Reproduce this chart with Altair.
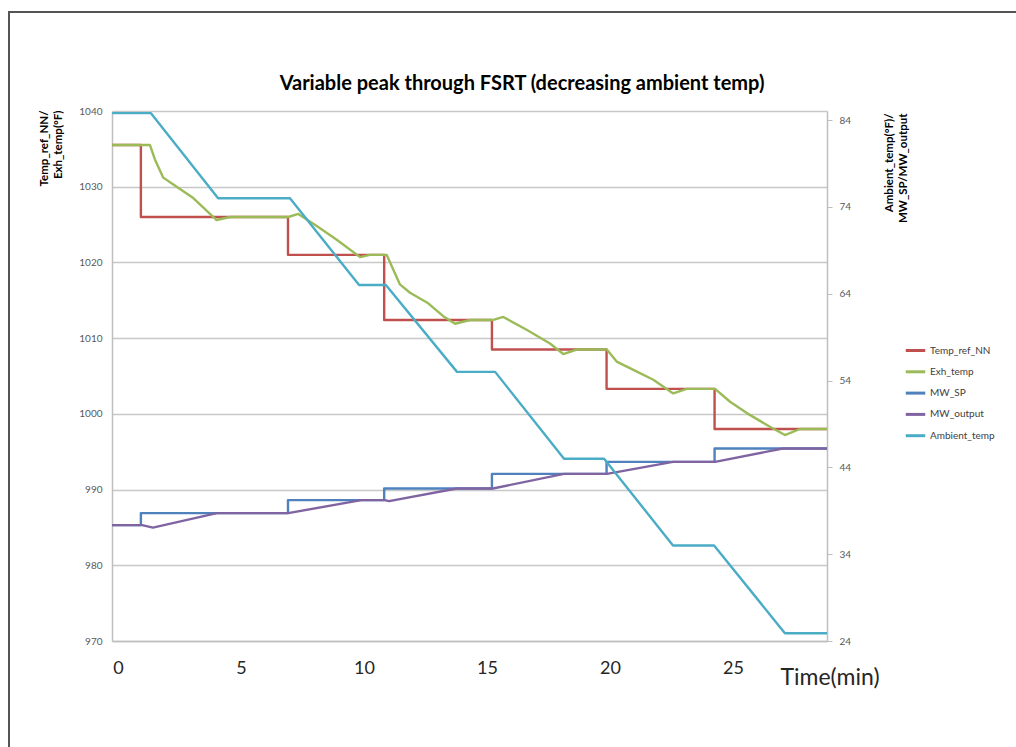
import altair as alt
import pandas as pd

# Series names and Office-style colours
SERIES = ["Temp_ref_NN", "Exh_temp", "MW_SP", "MW_output", "Ambient_temp"]
COLORS = ["#c0504d", "#9bbb59", "#4f81bd", "#8064a2", "#4bacc6"]

TITLE = "Variable peak through FSRT (decreasing ambient temp)"

# Temp_ref_NN (°F) – stepped set point
ref_t = [-0.24, 0.93, 0.93, 6.91, 6.91, 10.82, 10.82, 15.2, 15.2, 19.86, 19.86, 24.25, 24.25, 28.82]
ref_v = [1035.5, 1035.5, 1026.0, 1026.0, 1021.0, 1021.0, 1012.4, 1012.4, 1008.5, 1008.5,
         1003.3, 1003.3, 998.0, 998.0]

# Exh_temp (°F) – measured exhaust temperature
exh_t = [-0.24, 1.30, 1.50, 1.84, 2.25, 3.06, 4.01, 4.55, 6.92, 7.33, 8.08, 8.89, 9.84, 10.24,
         10.92, 11.46, 11.87, 12.61, 13.22, 13.70, 14.31, 15.26, 15.66, 16.61, 17.56, 18.10,
         18.65, 19.87, 20.27, 20.95, 21.76, 22.57, 23.12, 24.27, 24.88, 25.56, 26.50, 27.11,
         27.72, 28.82]
exh_v = [1035.5, 1035.5, 1033.6, 1031.2, 1030.3, 1028.5, 1025.6, 1026.0, 1026.0, 1026.4,
         1024.8, 1023.0, 1020.7, 1021.0, 1021.0, 1017.1, 1016.0, 1014.6, 1012.9, 1011.9,
         1012.4, 1012.4, 1012.8, 1011.1, 1009.3, 1007.9, 1008.5, 1008.5, 1006.9, 1005.8,
         1004.5, 1002.7, 1003.3, 1003.3, 1001.6, 1000.1, 998.3, 997.2, 998.0, 998.0]

# MW_SP – stepped megawatt set point
sp_t = [-0.24, 0.93, 0.93, 6.91, 6.91, 10.82, 10.82, 15.2, 15.2, 19.86, 19.86, 24.25, 24.25, 28.82]
sp_v = [37.35, 37.35, 38.73, 38.73, 40.23, 40.23, 41.57, 41.57, 43.25, 43.25, 44.63, 44.63,
        46.17, 46.17]

# MW_output – measured megawatts
mw_t = [-0.24, 0.98, 1.42, 4.02, 6.92, 9.89, 10.84, 11.02, 13.77, 15.24, 18.13, 19.88,
        22.56, 24.27, 27.02, 28.82]
mw_v = [37.35, 37.35, 37.06, 38.73, 38.73, 40.23, 40.23, 40.11, 41.57, 41.57, 43.25, 43.25,
        44.63, 44.63, 46.17, 46.17]

# Ambient_temp (°F)
amb_t = [-0.24, 1.34, 4.07, 6.99, 9.80, 10.89, 13.78, 15.33, 18.13, 19.76, 22.56, 24.23,
         27.11, 28.82]
amb_v = [84.8, 84.8, 75.0, 75.0, 65.0, 65.0, 55.0, 55.0, 45.0, 45.0, 35.0, 35.0, 24.9, 24.9]

LEFT_TICKS = [970, 980, 990, 1000, 1010, 1020, 1030, 1040]
RIGHT_TICKS = [24, 34, 44, 54, 64, 74, 84]
TIME_TICKS = [0, 5, 10, 15, 20, 25]

FONT = "Lato"
W, H = 715, 530
PAD = {"left": 112, "top": 111, "right": 1016 - 112 - W, "bottom": 747 - 111 - H}


def frame(name, ts, vs):
    return pd.DataFrame({"t": ts, "v": vs, "series": name, "i": list(range(len(ts)))})


color = alt.Color(
    "series:N",
    scale=alt.Scale(domain=SERIES, range=COLORS),
    legend=alt.Legend(
        title=None, orient="none", legendX=792, legendY=228,
        symbolType="stroke", symbolSize=380, symbolStrokeWidth=3,
        labelFont=FONT, labelFontSize=10, labelColor="#404040",
        rowPadding=3.3, labelOffset=3,
    ),
)

x = alt.X(
    "t:Q",
    scale=alt.Scale(domain=[-0.244, 28.82], nice=False, zero=False),
    axis=alt.Axis(
        values=TIME_TICKS, ticks=False, grid=False, domainColor="#bfbfbf", domainWidth=1.5,
        labelFont=FONT, labelFontSize=18, labelColor="#262626", labelPadding=18,
        title="Time(min)", titleFont=FONT, titleFontSize=23, titleFontWeight="normal",
        titleColor="#262626", titleAnchor="start", titleAlign="left",
        titleX=668, titleY=36, titleBaseline="middle",
    ),
)

y_left = alt.Y(
    "v:Q",
    scale=alt.Scale(domain=[970, 1040], nice=False, zero=False),
    axis=alt.Axis(
        values=LEFT_TICKS, format="d", ticks=False, grid=True, gridColor="#c8c8c8", gridWidth=1.5,
        domainColor="#bfbfbf", domainWidth=1.5,
        labelFont=FONT, labelFontSize=10, labelColor="#595959", labelPadding=10,
        title=["Temp_ref_NN/", "Exh_temp(°F)"], titleFont=FONT, titleFontSize=11.5,
        titleFontWeight="bold", titleColor="#000000", titleAngle=270,
        titleAlign="right", titleBaseline="top", titleLineHeight=14,
        titleX=-74, titleY=-1,
    ),
)

y_right = alt.Y(
    "v:Q",
    scale=alt.Scale(domain=[24, 85.05], nice=False, zero=False),
    axis=alt.Axis(
        orient="right", values=RIGHT_TICKS, format="d", grid=False,
        ticks=True, tickSize=5, tickColor="#bfbfbf",
        domainColor="#bfbfbf", domainWidth=1.5,
        labelFont=FONT, labelFontSize=10, labelColor="#595959", labelPadding=7,
        title=["Ambient_temp(°F)/", "MW_SP/MW_output"], titleFont=FONT, titleFontSize=11.5,
        titleFontWeight="bold", titleColor="#000000", titleAngle=270,
        titleAlign="right", titleBaseline="top", titleLineHeight=14,
        titleX=56, titleY=2,
    ),
)


def line(df, y):
    return alt.Chart(df).mark_line(strokeWidth=2.4, strokeJoin="round").encode(
        x=x, y=y, color=color, order="i:Q"
    )


left = alt.layer(
    line(frame("Temp_ref_NN", ref_t, ref_v), y_left),
    line(frame("Exh_temp", exh_t, exh_v), y_left),
)
right = alt.layer(
    line(frame("MW_SP", sp_t, sp_v), y_right),
    line(frame("MW_output", mw_t, mw_v), y_right),
    line(frame("Ambient_temp", amb_t, amb_v), y_right),
)

# outer picture frame
border = alt.Chart(pd.DataFrame({"k": [0]})).mark_rect(
    fillOpacity=0, stroke="#555555", strokeWidth=2
).encode(
    x=alt.value(-103), x2=alt.value(920), y=alt.value(-99), y2=alt.value(660)
)

# chart heading, centred over the whole picture
heading = alt.Chart(pd.DataFrame({"label": [TITLE]})).mark_text(
    font=FONT, fontSize=20, fontWeight="bold", color="#000000",
    align="center", baseline="middle",
).encode(text="label:N", x=alt.value(410), y=alt.value(-27))

chart = alt.layer(border, heading, left, right).resolve_scale(y="independent").properties(
    width=W, height=H,
    padding=PAD,
    autosize=alt.AutoSizeParams(type="none"),
    background="white",
).configure_view(stroke=None)

chart.save("out.html", embed_options={"renderer": "svg", "actions": False})
